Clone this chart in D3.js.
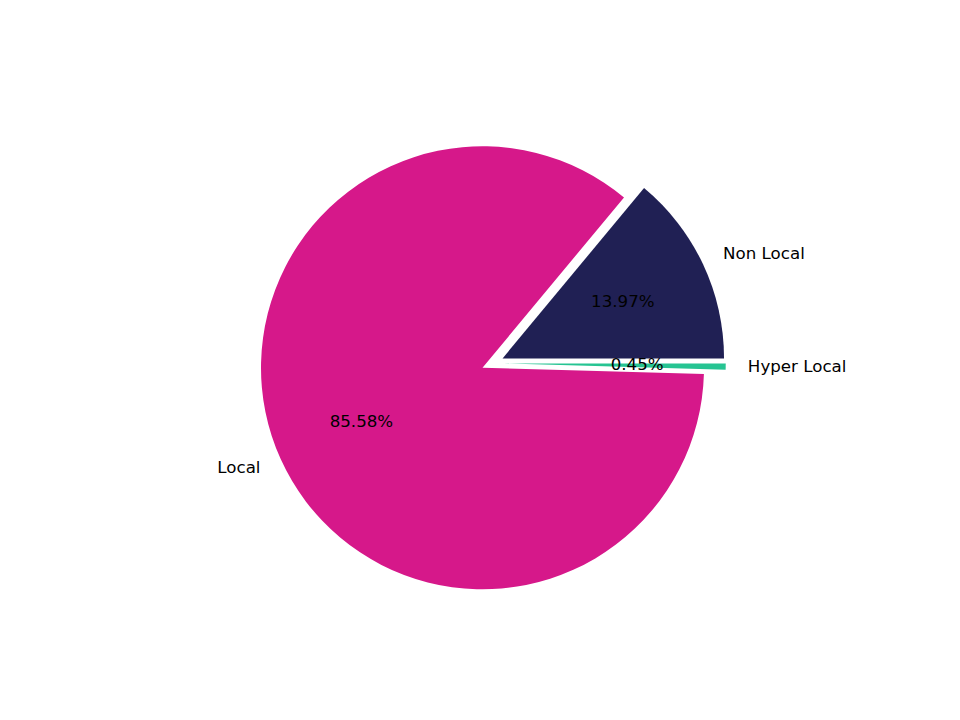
<!DOCTYPE html>
<html>
<head>
<meta charset="utf-8">
<script src="https://cdn.jsdelivr.net/npm/d3@7"></script>
<style>
  body { margin: 0; background: #fff; }
  text { font-family: "DejaVu Sans", sans-serif; font-size: 16.67px; fill: #000; }
</style>
</head>
<body>
<svg id="chart" width="960" height="720"></svg>
<script>
// data, in drawing order (counter-clockwise from 3 o'clock)
const categories = ['Non Local', 'Local', 'Hyper Local'];
const shares = [13.97, 85.58, 0.45];
const explode = [0.1, 0, 0.1];
const colors = ['#202054', '#d6188a', '#26c492'];

// layout
const cx = 482.5, cy = 367.8, radius = 221.5;
const labelDistance = 1.1, pctDistance = 0.6;
// the thin slice is pushed out a little upwards in the source picture
const explodeTilt = { 'Hyper Local': 12 };

const svg = d3.select('#chart');
const g = svg.append('g').attr('transform', `translate(${cx},${cy})`);

const rows = categories.map((c, i) => ({ name: c, value: shares[i], explode: explode[i], color: colors[i] }));

// start at 3 o'clock, run counter-clockwise like matplotlib
const pie = d3.pie()
    .sort(null)
    .value(d => d.value)
    .startAngle(Math.PI / 2)
    .endAngle(Math.PI / 2 - 2 * Math.PI);

const arc = d3.arc().innerRadius(0).outerRadius(radius);
const arcs = pie(rows);

const dir = a => [Math.sin(a), -Math.cos(a)];

arcs.forEach(d => {
    d.mid = (d.startAngle + d.endAngle) / 2;
    const tilt = (explodeTilt[d.data.name] || 0) * Math.PI / 180;
    const [ex, ey] = dir(d.mid - tilt);
    d.ox = ex * d.data.explode * radius;
    d.oy = ey * d.data.explode * radius;
});

const slices = g.selectAll('g.slice')
    .data(arcs)
    .enter()
    .append('g')
    .attr('class', 'slice')
    .attr('transform', d => `translate(${d.ox},${d.oy})`);

slices.append('path')
    .attr('d', arc)
    .attr('fill', d => d.data.color);

// category labels outside
slices.append('text')
    .attr('x', d => dir(d.mid)[0] * radius * labelDistance)
    .attr('y', d => dir(d.mid)[1] * radius * labelDistance)
    .attr('dy', '0.276em')
    .attr('text-anchor', d => dir(d.mid)[0] > 0 ? 'start' : 'end')
    .text(d => d.data.name);

// percentages inside
slices.append('text')
    .attr('x', d => dir(d.mid)[0] * radius * pctDistance)
    .attr('y', d => dir(d.mid)[1] * radius * pctDistance)
    .attr('dy', '0.276em')
    .attr('text-anchor', 'middle')
    .text(d => d.data.value.toFixed(2) + '%');
</script>
</body>
</html>
